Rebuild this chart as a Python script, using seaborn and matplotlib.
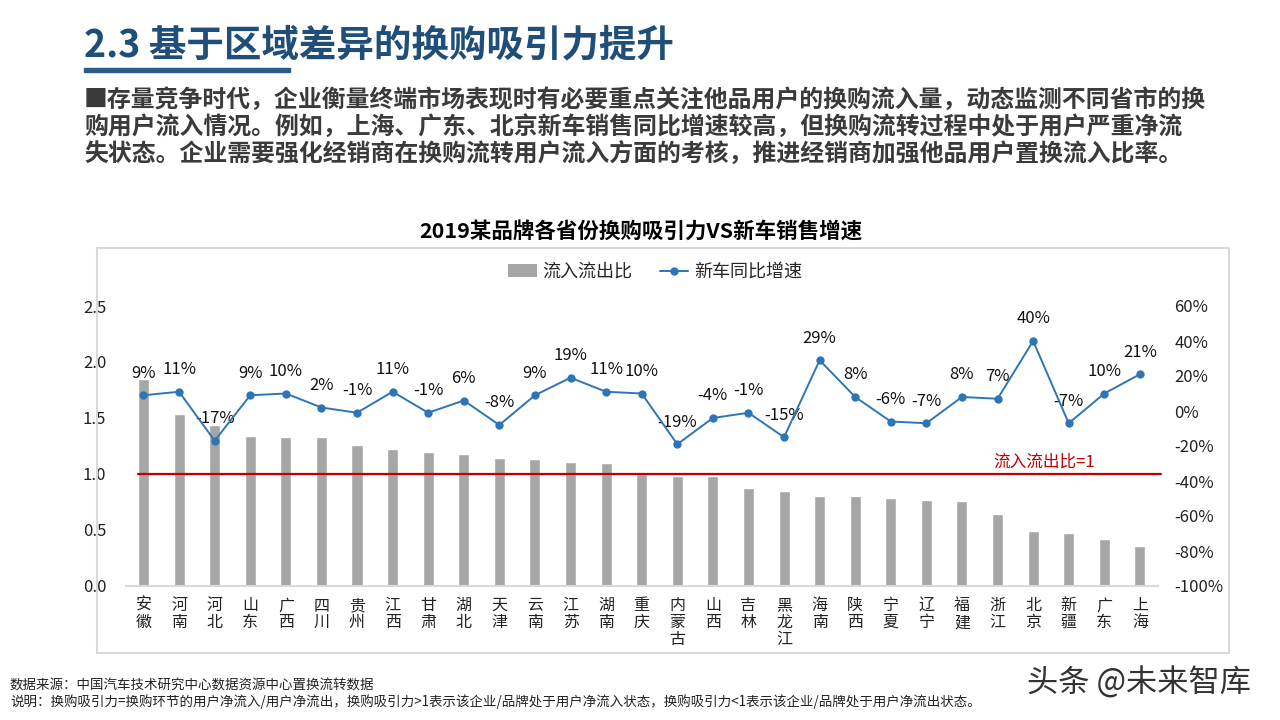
import matplotlib
matplotlib.use('Agg')
import matplotlib.pyplot as plt
import seaborn as sns
import numpy as np
import pandas as pd
from matplotlib.patches import Patch, Rectangle
from matplotlib.lines import Line2D

# data
provinces = ['安徽', '河南', '河北', '山东', '广西', '四川', '贵州', '江西', '甘肃', '湖北',
             '天津', '云南', '江苏', '湖南', '重庆', '内蒙古', '山西', '吉林', '黑龙江', '海南',
             '陕西', '宁夏', '辽宁', '福建', '浙江', '北京', '新疆', '广东', '上海']
flow_ratio = [1.85, 1.54, 1.44, 1.34, 1.33, 1.33, 1.26, 1.22, 1.20, 1.18,
              1.14, 1.13, 1.11, 1.10, 1.00, 0.98, 0.98, 0.875, 0.845, 0.80,
              0.80, 0.79, 0.77, 0.76, 0.64, 0.49, 0.47, 0.42, 0.36]
growth_pct = [9, 11, -17, 9, 10, 2, -1, 11, -1, 6,
              -8, 9, 19, 11, 10, -19, -4, -1, -15, 29,
              8, -6, -7, 8, 7, 40, -7, 10, 21]
left_ticks = [0.0, 0.5, 1.0, 1.5, 2.0, 2.5]
right_ticks = [-100, -80, -60, -40, -20, 0, 20, 40, 60]

df = pd.DataFrame({'省份': provinces, '流入流出比': flow_ratio, '新车同比增速': np.array(growth_pct) / 100})
df['pos'] = np.arange(len(df))

sns.set_theme(style='white')
plt.rcParams['font.family'] = ['Noto Sans CJK SC', 'DejaVu Sans']
plt.rcParams['axes.unicode_minus'] = False

bar_color = '#A6A6A6'
line_color = '#2E75B6'
red = '#C00000'

fig = plt.figure(figsize=(12.8, 7.2), dpi=100)

# header text
fig.text(84 / 1280, 1 - 45 / 720, '2.3 基于区域差异的换购吸引力提升', fontsize=27, fontweight='bold',
         color='#1F4E79', ha='left', va='center')
fig.patches.append(Rectangle((84 / 1280, 1 - 72 / 720), 206 / 1280, 4 / 720, transform=fig.transFigure,
                             color='#2B5C8A', zorder=3))
para = ['■存量竞争时代，企业衡量终端市场表现时有必要重点关注他品用户的换购流入量，动态监测不同省市的换',
        '购用户流入情况。例如，上海、广东、北京新车销售同比增速较高，但换购流转过程中处于用户严重净流',
        '失状态。企业需要强化经销商在换购流转用户流入方面的考核，推进经销商加强他品用户置换流入比率。']
for k, line in enumerate(para):
    fig.text(84 / 1280, 1 - (100 + 27 * k) / 720, line, fontsize=17.2, fontweight='bold',
             color='#3A3A3A', ha='left', va='center')

# chart frame
fig.patches.append(Rectangle((97 / 1280, 1 - 653 / 720), 1132 / 1280, 405 / 720, transform=fig.transFigure,
                             fill=False, edgecolor='#D9D9D9', lw=1.5))
fig.text(641 / 1280, 1 - 232 / 720, '2019某品牌各省份换购吸引力VS新车销售增速', fontsize=15.5,
         fontweight='bold', color='black', ha='center', va='center')

ax = fig.add_axes([125.7 / 1280, 1 - 586 / 720, 1032 / 1280, 280 / 720])
sns.barplot(data=df, x='pos', y='流入流出比', color=bar_color, width=0.31, saturation=1, ax=ax, zorder=2)
ax.set_xlim(-0.5, len(df) - 0.5)
ax.set_ylim(0, 2.5)
ax.set_yticks(left_ticks)
ax.set_yticklabels([f'{t:.1f}' for t in left_ticks])
ax.set_xticks(df['pos'])
ax.set_xticklabels(['\n'.join(p) for p in provinces], linespacing=1.0, va='top')
ax.set_xlabel('')
ax.set_ylabel('')
ax.tick_params(axis='x', length=0, pad=8, labelsize=11.5, colors='#222222')
ax.tick_params(axis='y', length=0, pad=14, labelsize=12, colors='#222222')
for s in ['top', 'left', 'right']:
    ax.spines[s].set_visible(False)
ax.spines['bottom'].set_color('#D9D9D9')
ax.spines['bottom'].set_linewidth(1.5)

# reference line at ratio = 1
ax.plot([-0.15, 28.58], [1, 1], color=red, lw=1.6, zorder=3, clip_on=False)
ax.text(25.3, 1.11, '流入流出比=1', color=red, fontsize=12, ha='center', va='center')

ax2 = ax.twinx()
sns.lineplot(data=df, x='pos', y='新车同比增速', color=line_color, lw=1.4, marker='o', markersize=6,
             markeredgewidth=0, ax=ax2, zorder=4)
ax2.set_ylim(-1.0, 0.6)
ax2.set_yticks(np.array(right_ticks) / 100)
ax2.set_yticklabels([f'{t}%' for t in right_ticks])
ax2.set_ylabel('')
ax2.tick_params(axis='y', length=0, pad=12, labelsize=12, colors='#222222')
for s in ['top', 'left', 'right', 'bottom']:
    ax2.spines[s].set_visible(False)
for i, v in enumerate(growth_pct):
    ax2.annotate(f'{v}%', (i, v / 100), xytext=(0, 16), textcoords='offset points',
                 ha='center', va='center', fontsize=12, color='#111111')

handles = [Patch(facecolor=bar_color, edgecolor='none'),
           Line2D([0], [0], color=line_color, lw=1.4, marker='o', markersize=5)]
fig.legend(handles, ['流入流出比', '新车同比增速'], loc='center', bbox_to_anchor=(655 / 1280, 1 - 272 / 720),
           ncol=2, frameon=False, fontsize=13, handlelength=1.6, handletextpad=0.3, columnspacing=1.5)

# footnotes and watermark
fig.text(10 / 1280, 1 - 686 / 720, '数据来源：中国汽车技术研究中心数据资源中心置换流转数据',
         fontsize=9.7, color='#222222', ha='left', va='center')
fig.text(10 / 1280, 1 - 702 / 720,
         '说明：换购吸引力=换购环节的用户净流入/用户净流出，换购吸引力>1表示该企业/品牌处于用户净流入状态，'
         '换购吸引力<1表示该企业/品牌处于用户净流出状态。',
         fontsize=9.7, color='#222222', ha='left', va='center')
fig.text(1027 / 1280, 1 - 683 / 720, '头条 @未来智库', fontsize=22.5, color='#333333', ha='left', va='center')

fig.savefig('out.png', dpi=100)
